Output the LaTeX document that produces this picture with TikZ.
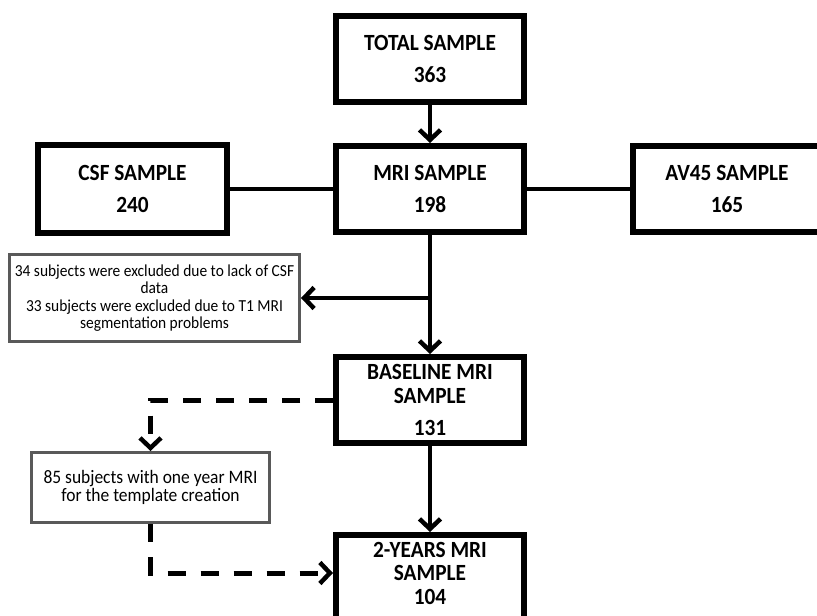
\documentclass[tikz,border=0pt]{standalone}
\usepackage{fontspec}
\setmainfont{Carlito}[FakeStretch=0.92]
\usetikzlibrary{arrows.meta}
\tikzset{
  bigbox/.style={draw=black, line width=6pt, fill=white, minimum width=188pt, minimum height=86pt, inner sep=0pt, align=center, font=\fontsize{23.2}{24}\selectfont\bfseries},
  bigtext/.style={inner sep=0pt, align=center, font=\fontsize{23.2}{23.5}\selectfont\bfseries},
  notebox/.style={draw=black!65, line width=3pt, fill=white, inner sep=0pt, align=center},
  conn/.style={line width=4pt, black},
  arr/.style={conn, -{Straight Barb[length=10pt,width=21pt,line width=4.5pt]}},
  darr/.style={line width=5pt, black, dash pattern=on 18pt off 15pt, -{Straight Barb[length=10pt,width=21pt,line width=4.5pt]}},
}
\begin{document}
\begin{tikzpicture}[x=1pt,y=-1pt]
\useasboundingbox[fill=white] (0,0) rectangle (817,616);
\node[bigbox] (total) at (430,59) {TOTAL SAMPLE\\[8pt]363};
\node[bigbox] (mri) at (430,189) {MRI SAMPLE\\[8pt]198};
\node[bigbox, minimum width=189pt, minimum height=88pt] (csf) at (132.5,189) {CSF SAMPLE\\[8pt]240};
\node[bigbox] (av) at (727,189) {AV45 SAMPLE\\[8pt]165};
\node[notebox, minimum width=290pt, minimum height=87pt, font=\fontsize{16.8}{17}\selectfont] (excl) at (154.5,298)
  {34 subjects were excluded due to lack of CSF\\data\\[1pt]33 subjects were excluded due to T1 MRI\\segmentation problems};
\node[bigbox] (base) at (430,400) {BASELINE MRI\\SAMPLE\\[8pt]131};
\node[notebox, minimum width=238pt, minimum height=70pt, font=\fontsize{19}{18}\selectfont] (tmpl) at (150.5,487.5)
  {85 subjects with one year MRI\\for the template creation};
\node[bigbox, anchor=north] (two) at (430,532) {};
\node[bigtext] (twotext) at (430,573) {2-YEARS MRI\\SAMPLE\\104};
\coordinate (br) at (mri.south |- excl.east);
\coordinate (d1) at (tmpl.north |- base.west);
\coordinate (d2) at (tmpl.south |- 0,573);
\draw[arr] (total.south) -- (mri.north);
\draw[conn] (csf.east) -- (mri.west);
\draw[conn] (mri.east) -- (av.west);
\draw[arr] (mri.south) -- (base.north);
\draw[arr] (br) -- (excl.east);
\draw[arr] (base.south) -- (two.north);
\draw[darr] (base.west) -- (d1) -- (tmpl.north);
\draw[darr] (tmpl.south) -- (d2) -- (two.west |- d2);
\end{tikzpicture}
\end{document}
